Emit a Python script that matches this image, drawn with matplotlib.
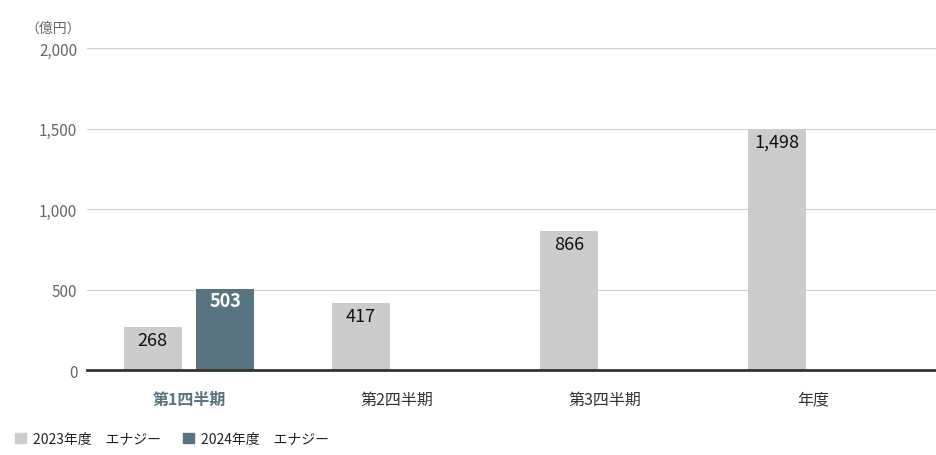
import numpy as np
import matplotlib.pyplot as plt

plt.rcParams['font.family'] = ['Noto Sans CJK JP', 'DejaVu Sans']

categories = ['第1四半期', '第2四半期', '第3四半期', '年度']
fy2023 = [268, 417, 866, 1498]
fy2024 = [503, None, None, None]
series_names = ['2023年度　エナジー', '2024年度　エナジー']
yticks = [0, 500, 1000, 1500, 2000]

c23 = '#cccccc'
c24 = '#587480'

fig = plt.figure(figsize=(9.36, 4.56), dpi=100)
ax = fig.add_axes([87/936, 1-371/456, 849/936, (371-49)/456])

x = np.arange(len(categories))
w = 0.279
off = 0.175

ax.bar(x - off, fy2023, w, color=c23, zorder=2)
x24 = [xi + off for xi, v in zip(x, fy2024) if v is not None]
v24 = [v for v in fy2024 if v is not None]
ax.bar(x24, v24, w, color=c24, zorder=2)

for xi, v in zip(x - off, fy2023):
    ax.annotate(f'{v:,}', (xi, v), xytext=(0, -9.5), textcoords='offset points',
                ha='center', va='center', fontsize=13, color='#111111')
for xi, v in zip(x24, v24):
    ax.annotate(f'{v:,}', (xi, v), xytext=(0, -8.5), textcoords='offset points',
                ha='center', va='center', fontsize=13, color='white', fontweight='bold')

ax.set_xlim(-0.49, 3.59)
ax.set_ylim(0, 2000)
ax.set_yticks(yticks)
ax.set_yticklabels([f'{t:,}' for t in yticks], fontsize=11, color='#666666')
ax.grid(axis='y', color='#d0d0d0', linewidth=0.8, zorder=0)
ax.set_xticks(x)
ax.set_xticklabels(categories, fontsize=11.5, color='#333333')
lbl = ax.get_xticklabels()[0]
lbl.set_color(c24)
lbl.set_fontweight('bold')
ax.tick_params(axis='both', length=0)
ax.tick_params(axis='x', pad=15)
ax.tick_params(axis='y', pad=7)
for s in ['top', 'right', 'left']:
    ax.spines[s].set_visible(False)
ax.spines['bottom'].set_color('#333333')
ax.spines['bottom'].set_linewidth(2)
ax.spines['bottom'].set_zorder(3)

fig.text(81/936, 1-29/456, '（億円）', ha='right', va='center', fontsize=10, color='#666666')

handles = [plt.Rectangle((0, 0), 1, 1, color=c23), plt.Rectangle((0, 0), 1, 1, color=c24)]
fig.legend(handles, series_names, loc='center left', bbox_to_anchor=(2/936, 1-440/456),
           ncol=2, frameon=False, fontsize=10, handlelength=0.8, handleheight=0.8,
           handletextpad=0.5, columnspacing=1.6, labelcolor='#222222')

fig.savefig('out.png', dpi=100)
